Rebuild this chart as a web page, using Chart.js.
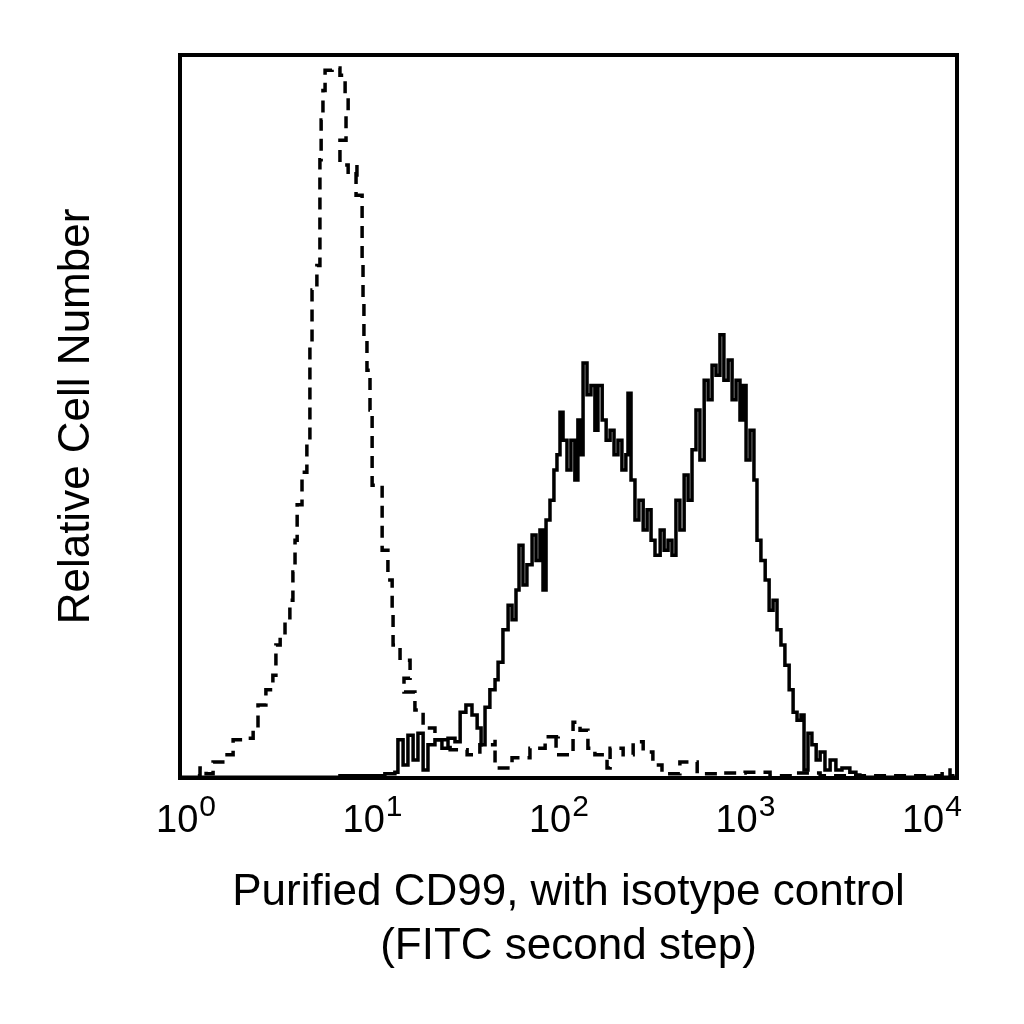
<!DOCTYPE html>
<html>
<head>
<meta charset="utf-8">
<title>Purified CD99, with isotype control</title>
<script src="https://cdn.jsdelivr.net/npm/chart.js@4.4.1/dist/chart.umd.min.js"></script>
<style>
  html, body { margin: 0; padding: 0; background: #fff; }
  #wrap { width: 1024px; height: 1024px; }
</style>
</head>
<body>
<div id="wrap"><canvas id="histo" width="1024" height="1024"></canvas></div>
<script>
// canaux (0-256 = 4 décades log) et comptes relatifs
const isoChannels = [0, 4.9, 6.6, 8.6, 10.9, 14.8, 17.5, 21.4, 24.1, 25.7, 28.3, 30.6, 31.6, 33.0, 34.6, 36.2,
  37.2, 37.9, 38.6, 40.2, 41.8, 42.8, 42.8, 43.5, 45.1, 46.1, 46.1, 46.1, 46.5, 47.1, 47.8, 50.1, 52.7, 54.4,
  55.4, 54.7, 52.7, 55.4, 58.3, 58.0, 60.0, 60.0, 60.3, 60.6, 61.6, 62.6, 63.3, 63.3, 66.6, 66.6, 68.5, 69.9,
  70.2, 72.5, 75.8, 73.8, 77.4, 80.1, 84.0, 89.0, 94.6, 98.8, 103.8, 103.8, 109.4, 115.3, 120.3, 124.6, 123.9,
  129.5, 131.8, 134.4, 136.7, 140.7, 141.7, 146.0, 149.3, 152.6, 155.8, 158.8, 164.7, 170.4, 176.9, 186.2,
  194.4, 202.0, 210.9, 227.4, 251.1, 253.7, 256];
const isoCounts = [0, 0.3, 1.4, 0.6, 2.2, 3.2, 5.3, 5.5, 6.9, 10.1, 12.2, 14.2, 18.4, 19.5, 21.9, 24.6,
  28.5, 32.9, 37.8, 42.3, 46.7, 52.3, 60.6, 67.5, 70.9, 75.1, 79.9, 85.5, 91.0, 95.1, 97.9, 98.2, 97.2, 94.5,
  91.7, 88.2, 84.8, 83.4, 84.8, 80.6, 77.9, 71.6, 66.1, 60.6, 56.4, 50.9, 45.4, 40.5, 36.4, 31.5, 27.4, 23.0,
  18.4, 16.3, 13.8, 11.9, 9.4, 6.9, 5.3, 3.9, 3.2, 4.6, 5.3, 1.4, 2.8, 4.1, 5.7, 6.2, 3.2,
  7.7, 6.6, 4.1, 3.2, 1.4, 4.1, 3.2, 5.0, 3.6, 1.8, 0.6, 2.2, 0.6, 0.7, 0.8,
  0.3, 0.7, 0.3, 0.3, 1.1, 0.3, 0];

const cd99Channels = [0, 52.7, 67.5, 70.8, 71.8, 73.5, 75.1, 76.8, 78.4, 80.1, 81.7, 84.0, 86.3, 88.3, 90.6,
  92.3, 94.2, 96.2, 97.9, 99.2, 100.5, 102.1, 103.8, 104.8, 106.4, 108.1, 109.4, 110.7, 111.7, 113.0, 114.3,
  116.0, 117.3, 118.6, 119.6, 120.6, 121.9, 123.2, 124.2, 125.2, 126.2, 127.5, 128.8, 130.1, 131.1, 132.1,
  132.8, 134.1, 135.4, 136.7, 137.7, 139.1, 140.4, 141.7, 143.0, 144.3, 145.6, 146.9, 147.6, 148.6, 149.9,
  151.2, 152.6, 153.9, 155.2, 156.5, 158.2, 159.5, 160.8, 162.1, 163.4, 164.7, 166.1, 167.4, 168.7, 170.0,
  171.3, 172.7, 174.0, 175.3, 176.6, 177.9, 179.2, 180.6, 181.9, 183.2, 184.5, 185.5, 186.5, 187.8, 189.1,
  190.1, 191.4, 192.8, 194.1, 195.4, 196.7, 198.0, 199.3, 200.7, 202.0, 203.3, 204.6, 205.6, 206.9, 208.2,
  209.6, 210.9, 212.5, 214.2, 216.1, 218.1, 220.7, 222.7, 224.0, 256];
const cd99Counts = [0.1, 0.3, 0.6, 0.8, 5.3, 1.8, 5.9, 2.5, 6.2, 1.1, 4.6, 5.3, 4.1, 5.5, 5.0,
  9.1, 10.1, 8.7, 6.9, 4.6, 9.8, 12.2, 13.6, 16.0, 20.5, 23.9, 21.9, 26.0, 32.2, 26.7, 29.5,
  33.6, 30.1, 34.3, 26.0, 35.7, 38.4, 42.6, 44.7, 50.6, 46.7, 42.6, 46.7, 41.2, 49.5, 44.7,
  57.4, 53.0, 54.3, 48.1, 54.3, 49.5, 46.7, 48.1, 44.7, 46.7, 42.6, 44.7, 53.2, 41.2, 35.7,
  38.4, 34.3, 37.1, 32.9, 30.8, 34.3, 31.5, 32.9, 30.8, 38.4, 34.3, 41.9, 38.4, 45.4, 50.9,
  44.0, 55.0, 52.3, 57.1, 55.7, 61.3, 55.0, 57.8, 52.3, 55.0, 49.5, 54.3, 44.0, 48.1, 41.2,
  32.9, 30.1, 27.4, 23.2, 24.6, 20.5, 18.4, 15.6, 12.2, 9.1, 8.0, 8.7, 1.1, 6.2, 4.6,
  2.5, 3.6, 1.1, 2.5, 1.1, 1.4, 0.8, 0.4, 0.1, 0.1];

// graduations : 10^0 ... 10^4
const tickChannels = [0, 64, 128, 192, 256];
const tickExponents = ['0', '1', '2', '3', '4'];

const FONT = '"Liberation Sans", Arial, Helvetica, sans-serif';

function toPoints(xs, ys) {
    return xs.map((x, i) => ({ x: x, y: ys[i] }));
}

// cadre noir + étiquettes 10^n avec exposant
const frameAndTicks = {
    id: 'frameAndTicks',
    afterDatasetsDraw(chart) {
        const { ctx, chartArea } = chart;
        ctx.save();
        ctx.strokeStyle = '#000';
        ctx.lineWidth = 4;
        ctx.strokeRect(chartArea.left, chartArea.top,
            chartArea.right - chartArea.left, chartArea.bottom - chartArea.top);
        ctx.restore();
    },
    afterDraw(chart) {
        const { ctx } = chart;
        const xScale = chart.scales.x;
        ctx.save();
        ctx.fillStyle = '#000';
        ctx.textBaseline = 'alphabetic';
        tickChannels.forEach((ch, i) => {
            const px = xScale.getPixelForValue(ch);
            // les étiquettes de l'original sont un peu resserrées vers la gauche
            const cx = xScale.left + 6 + (px - xScale.left) * 0.96;
            ctx.font = '38px ' + FONT;
            const baseW = ctx.measureText('10').width;
            ctx.font = '30px ' + FONT;
            const supW = ctx.measureText(tickExponents[i]).width;
            const start = cx - (baseW + supW + 1) / 2;
            ctx.font = '38px ' + FONT;
            ctx.fillText('10', start, 832);
            ctx.font = '30px ' + FONT;
            ctx.fillText(tickExponents[i], start + baseW + 1, 816);
        });
        ctx.restore();
    }
};

const ctx = document.getElementById('histo').getContext('2d');
new Chart(ctx, {
    type: 'line',
    data: {
        datasets: [{
            label: 'Isotype control',
            data: toPoints(isoChannels, isoCounts),
            borderColor: '#000',
            borderWidth: 3.5,
            borderDash: [12, 8],
            stepped: true,
            pointRadius: 0,
            fill: false
        }, {
            label: 'Purified CD99',
            data: toPoints(cd99Channels, cd99Counts),
            borderColor: '#000',
            borderWidth: 3.5,
            stepped: true,
            pointRadius: 0,
            fill: false
        }]
    },
    options: {
        responsive: false,
        animation: false,
        devicePixelRatio: 1,
        layout: {
            padding: { top: 55, right: 67, left: 0, bottom: 0 }
        },
        scales: {
            x: {
                type: 'linear',
                min: 0,
                max: 256,
                grid: { display: false },
                border: { display: false },
                ticks: { display: false },
                title: {
                    display: true,
                    text: ['Purified CD99, with isotype control', '(FITC second step)'],
                    color: '#000',
                    font: { family: FONT, size: 44, lineHeight: 1.23 },
                    padding: { top: 0, bottom: 50 }
                },
                afterFit: function(scale) {
                    scale.height = 246;
                }
            },
            y: {
                min: 0,
                max: 100,
                grid: { display: false },
                border: { display: false },
                ticks: { display: false },
                title: {
                    display: true,
                    text: 'Relative Cell Number',
                    color: '#000',
                    font: { family: FONT, size: 44, lineHeight: 1.2 },
                    padding: { top: 50, bottom: 0 }
                },
                afterFit: function(scale) {
                    scale.width = 180;
                }
            }
        },
        plugins: {
            legend: { display: false },
            tooltip: { enabled: false }
        }
    },
    plugins: [frameAndTicks]
});
</script>
</body>
</html>
